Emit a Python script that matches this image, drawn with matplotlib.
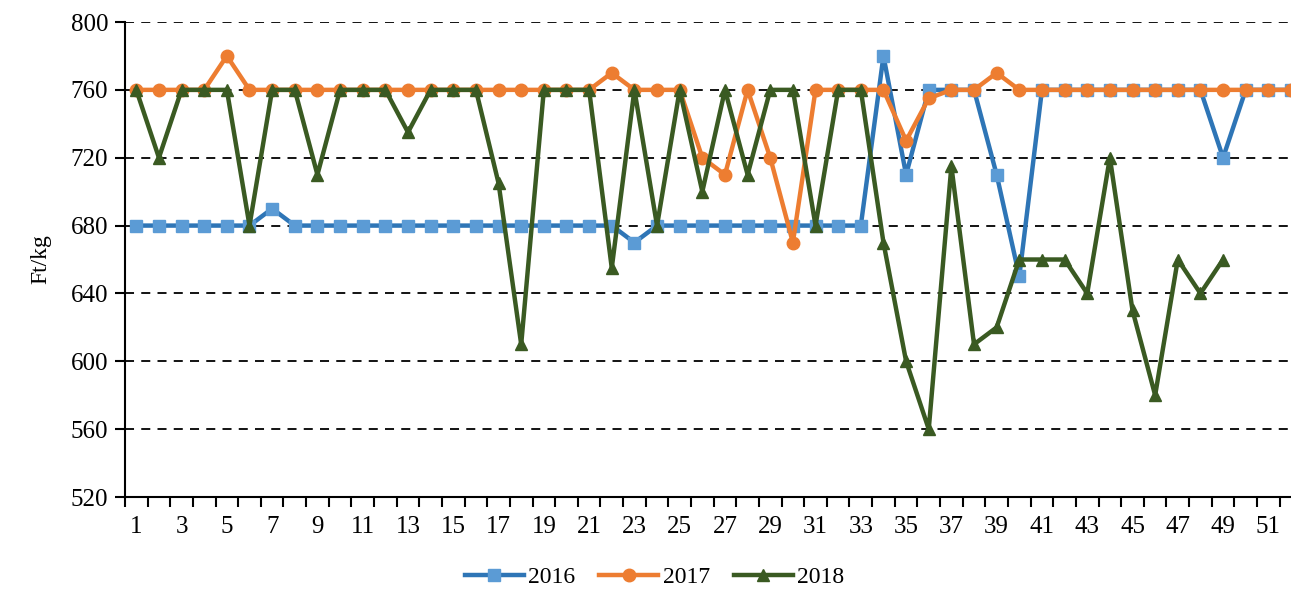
import numpy as np
import matplotlib
matplotlib.use("Agg")
import matplotlib.pyplot as plt

plt.rcParams['font.family'] = ['Liberation Serif', 'DejaVu Serif']

weeks_16 = np.arange(1, 53)
p2016 = [680]*6 + [690] + [680]*15 + [670] + [680]*10 + \
        [780, 710, 760, 760, 760, 710, 650] + [760]*8 + [720, 760, 760, 760]
weeks_17 = np.arange(1, 53)
p2017 = [760]*4 + [780] + [760]*16 + [770, 760, 760, 760, 720, 710, 760, 720, 670] + \
        [760]*4 + [730, 755, 760, 760, 770] + [760]*13
weeks_18 = np.arange(1, 50)
p2018 = [760, 720, 760, 760, 760, 680, 760, 760, 710, 760,
         760, 760, 735, 760, 760, 760, 705, 610, 760, 760,
         760, 655, 760, 680, 760, 700, 760, 710, 760, 760,
         680, 760, 760, 670, 600, 560, 715, 610, 620, 660,
         660, 660, 640, 720, 630, 580, 660, 640, 660]

fig = plt.figure(figsize=(12.91, 5.9), dpi=100)
ax = fig.add_axes([0.0968, 0.1576, 0.9032, 0.8051])

ax.plot(weeks_16, p2016, color='#2E75B6', lw=3.2, marker='s', ms=9,
        mfc='#5B9BD5', mec='#5B9BD5', label='2016', zorder=3)
ax.plot(weeks_17, p2017, color='#ED7D31', lw=3.2, marker='o', ms=9,
        mfc='#ED7D31', mec='#ED7D31', label='2017', zorder=4)
ax.plot(weeks_18, p2018, color='#3A5A22', lw=3.2, marker='^', ms=9,
        mfc='#3A5A22', mec='#3A5A22', label='2018', zorder=5)

ax.set_ylim(520, 800)
ax.set_yticks(np.arange(520, 801, 40))
ax.set_xlim(0.5, 52.0)
ax.set_xticks(np.arange(0.5, 52.5, 1))
ax.set_xticklabels([])
ax.set_xticks(np.arange(1, 52, 2), minor=True)
ax.set_xticklabels([str(i) for i in range(1, 52, 2)], minor=True)
ax.tick_params(axis='x', which='minor', length=0, pad=14, labelsize=18)
ax.tick_params(axis='x', which='major', length=7, width=1.5, direction='out')
ax.tick_params(axis='y', length=7, width=1.5, direction='out', labelsize=18, pad=5)

ax.grid(axis='y', color='black', linestyle=(0, (5, 4)), linewidth=1.3)
ax.set_axisbelow(True)
for s in ['top', 'right']:
    ax.spines[s].set_visible(False)
ax.spines['left'].set_linewidth(1.5)
ax.spines['bottom'].set_linewidth(1.5)

ax.set_ylabel('Ft/kg', fontsize=17, labelpad=14)

fig.legend(*ax.get_legend_handles_labels(), loc='center', bbox_to_anchor=(0.507, 0.022),
           ncol=3, frameon=False, fontsize=17, handlelength=2.5, columnspacing=1.0,
           handletextpad=0.2, borderpad=0.1)

fig.savefig('out.png', dpi=100)
